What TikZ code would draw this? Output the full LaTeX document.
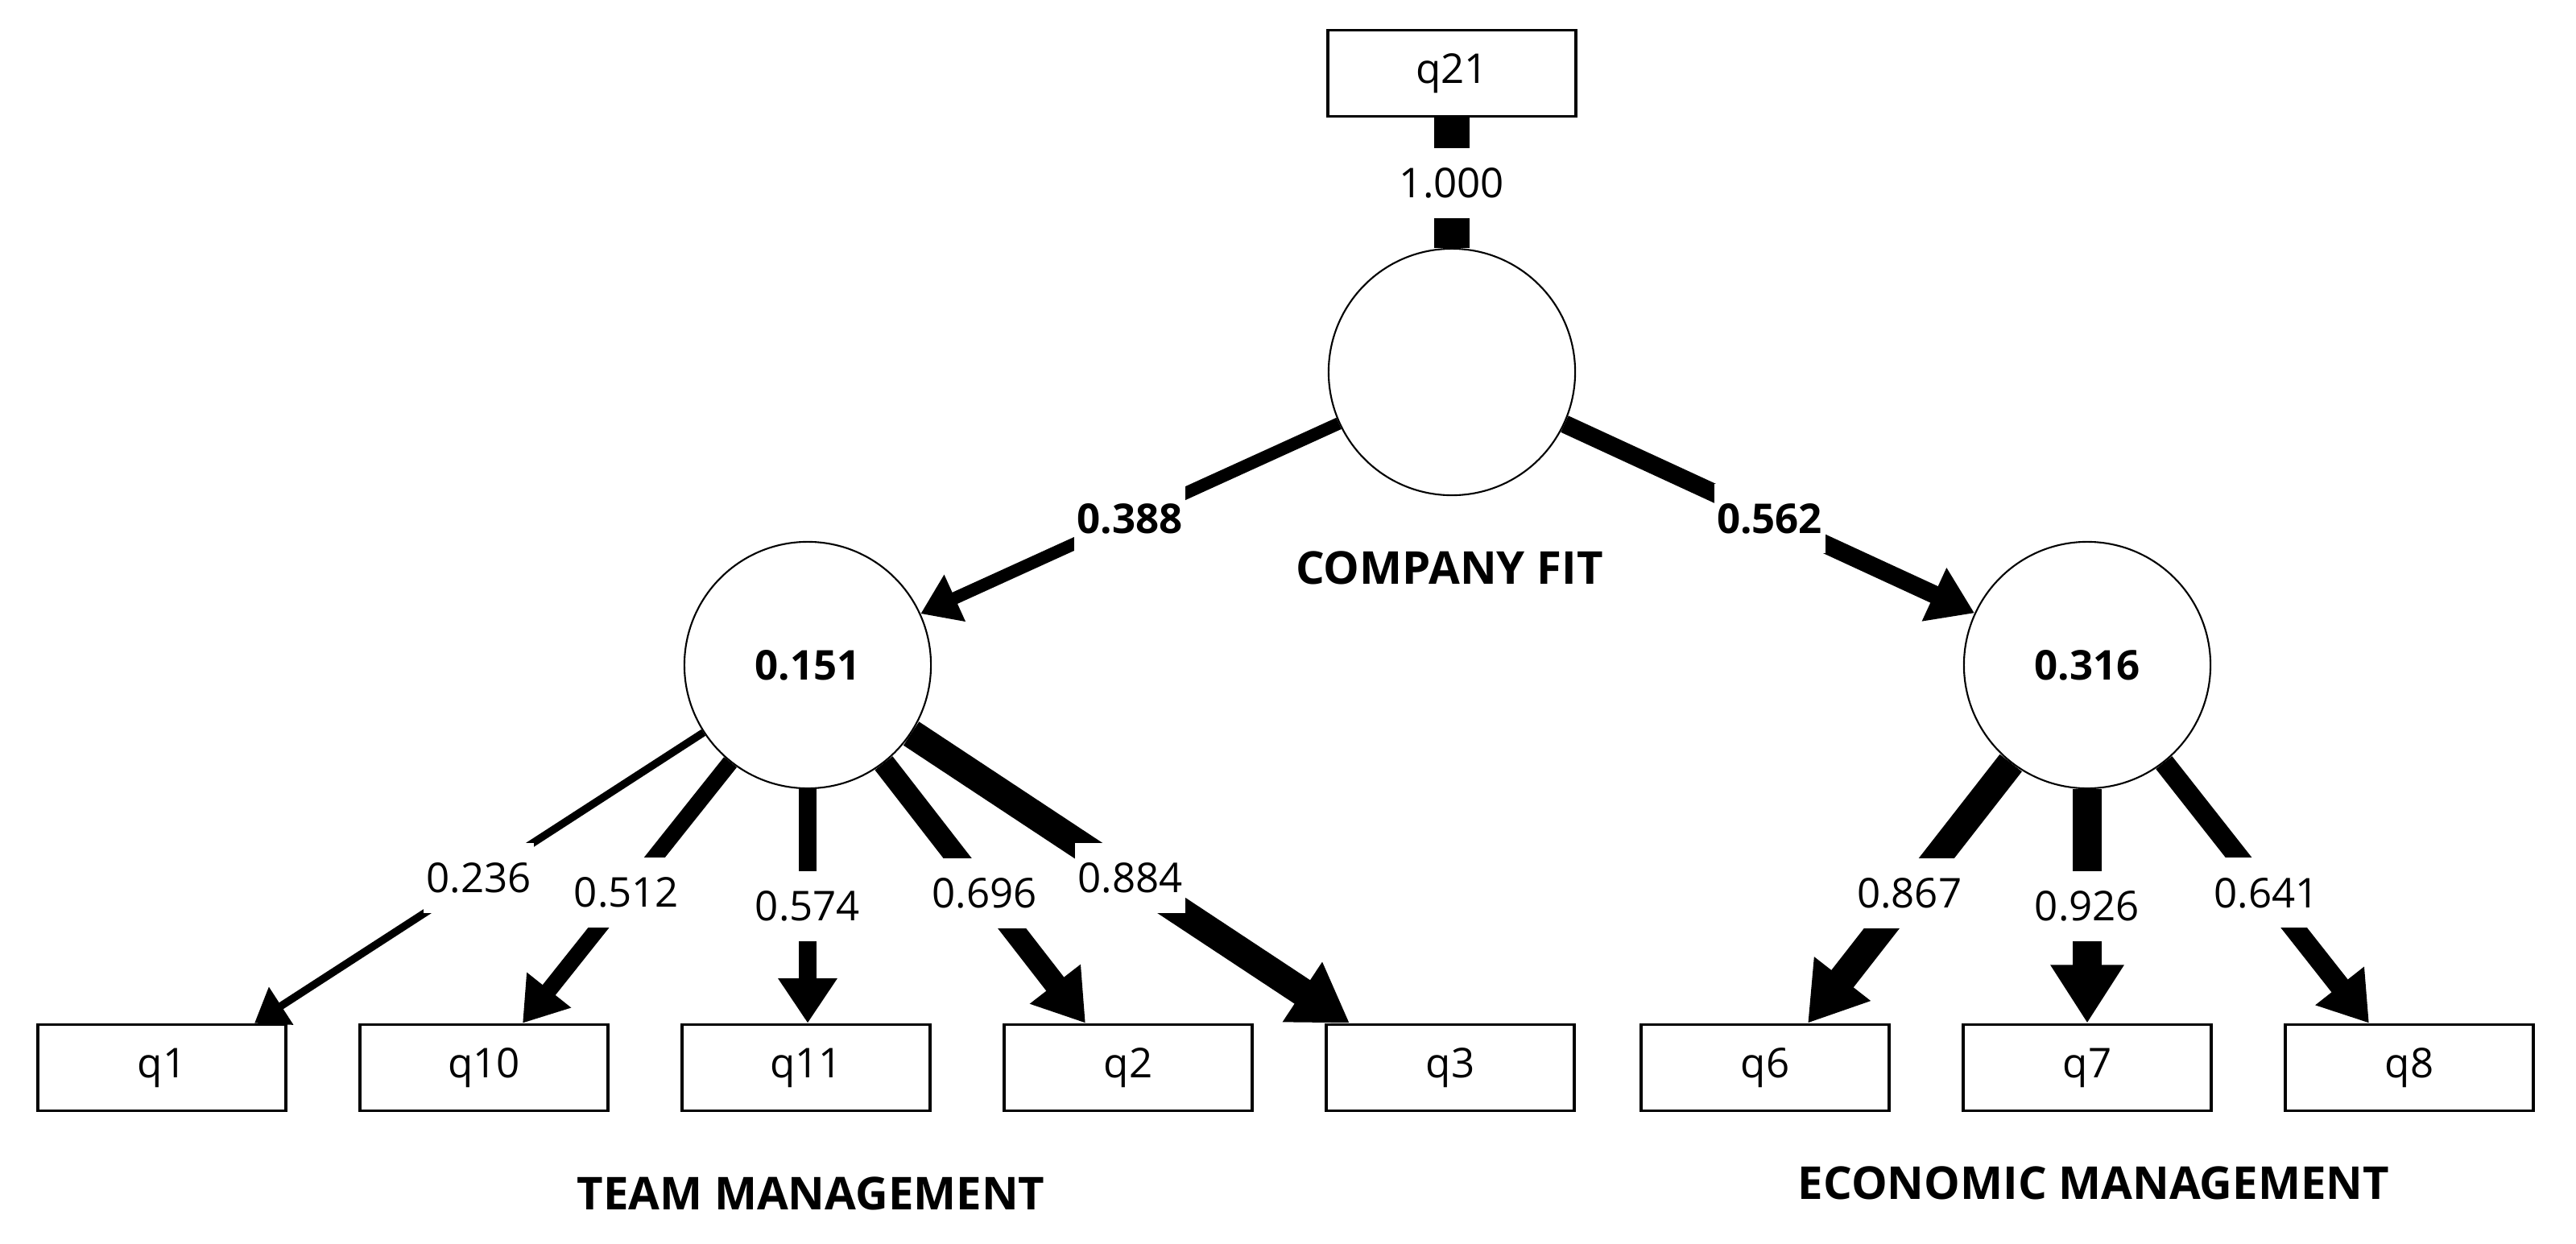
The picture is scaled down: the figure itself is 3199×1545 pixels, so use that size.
\documentclass[tikz,border=0pt]{standalone}
\usepackage{fontspec}
\setmainfont{Open Sans}
\usetikzlibrary{arrows.meta,calc}

\tikzset{
  item/.style={draw, line width=1pt, minimum width=3.08cm, minimum height=1.07cm,
    inner sep=0pt, font=\fontsize{14.5}{17}\selectfont},
  latent/.style={draw, circle, line width=0.6pt, minimum size=3.06cm, inner sep=0pt,
    font=\bfseries\fontsize{14.5}{17}\selectfont},
  coef/.style={fill=white, inner xsep=1pt, inner ysep=7pt, font=\fontsize{14.5}{17}\selectfont},
  load/.style={line width=#1, -{Triangle[length=8pt 1.2, width=12pt 1.2]}},
  title/.style={font=\bfseries\fontsize{16}{19}\selectfont}
}

\begin{document}
\begin{tikzpicture}[x=0.01cm, y=-0.01cm]
\useasboundingbox (0,0) rectangle (3199,1545);

% latent variables
\node[latent] (cf) at (1803,462) {};
\node[latent] (tm) at (1003,826) {0.151};
\node[latent] (em) at (2592,826) {0.316};

\node[title] (cftitle) at (1800,705) {COMPANY FIT};
\node[title] (tmtitle) at (1007,1482) {TEAM MANAGEMENT};
\node[title] (emtitle) at (2600,1469) {ECONOMIC MANAGEMENT};

% indicators
\node[item] (q21) at (1803,91) {q21};
\foreach \q/\x in {q1/201, q10/601, q11/1001, q2/1401, q3/1801, q6/2192, q7/2592, q8/2992}
  \node[item] (\q) at (\x,1326) {\q};

% structural paths
\draw[line width=12.5pt] (q21) -- (cf) node[coef, midway] {1.000};
\draw[load=4.4pt] (cf) -- (tm) node[coef, midway, font=\bfseries\fontsize{14.5}{17}\selectfont] {0.388};
\draw[load=6.4pt] (cf) -- (em) node[coef, midway, font=\bfseries\fontsize{14.5}{17}\selectfont] {0.562};

% outer loadings
\foreach \lv/\q/\dx/\w/\v in {tm/q1/115/2.7pt/0.236, tm/q10/48/5.8pt/0.512, tm/q11/2/6.5pt/0.574,
    tm/q2/-53/7.9pt/0.696, tm/q3/-125/10pt/0.884,
    em/q6/53/9.9pt/0.867, em/q7/0/10.5pt/0.926, em/q8/-50/7.3pt/0.641}
  \draw[load=\w] (\lv) -- ($(\q.north)+(\dx,0)$) node[coef, midway] {\v};
\end{tikzpicture}
\end{document}
